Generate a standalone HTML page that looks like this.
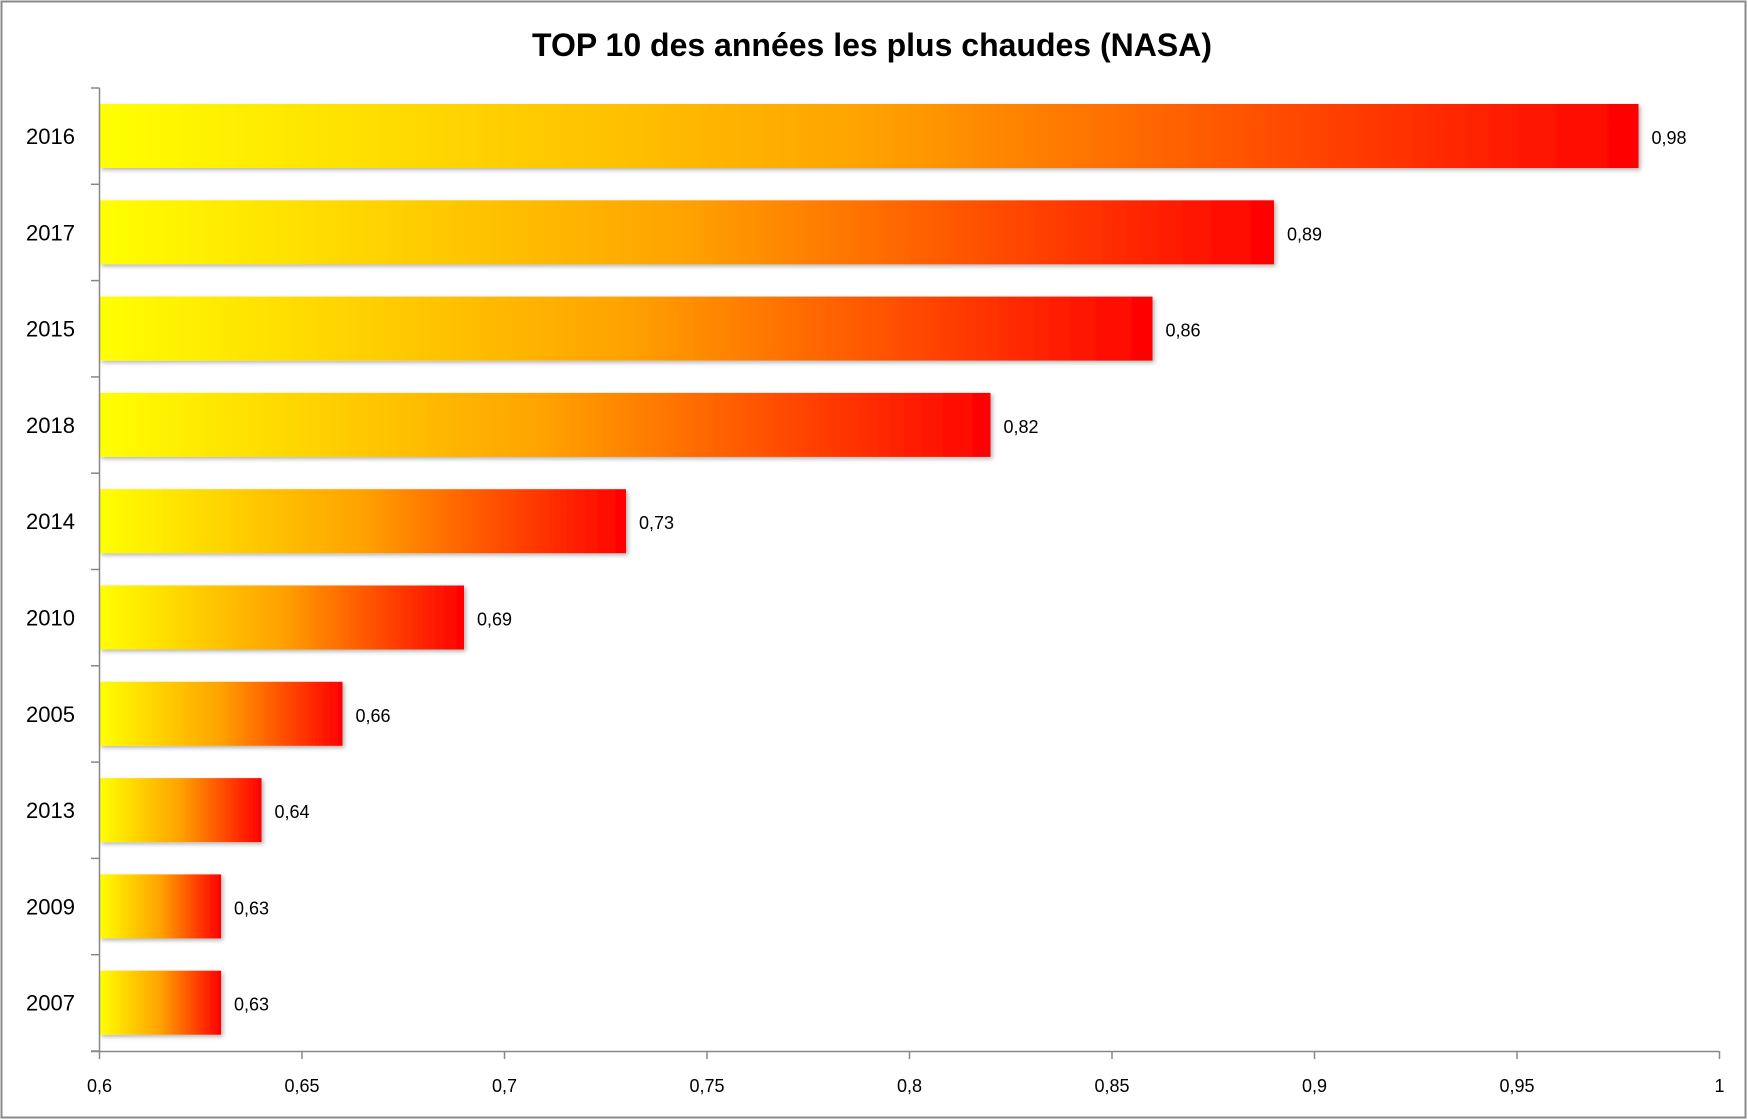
<!DOCTYPE html>
<html><head><meta charset="utf-8"><style>
body{margin:0;background:#fff;}
svg{display:block;font-family:"Liberation Sans",Calibri,sans-serif;}
</style></head><body>
<svg width="1748" height="1120" viewBox="0 0 1748 1120">
<defs>
<linearGradient id="g" x1="0" x2="1" y1="0" y2="0">
<stop offset="0" stop-color="#ffff00"/><stop offset="0.5" stop-color="#ffa200"/><stop offset="1" stop-color="#ff0000"/>
</linearGradient>
<filter id="s" x="-5%" y="-10%" width="110%" height="130%"><feDropShadow dx="2" dy="2" stdDeviation="2" flood-color="#000" flood-opacity="0.3"/></filter>
</defs>
<rect x="1.5" y="1.5" width="1744" height="1116" fill="#fff" stroke="#8a8a8a" stroke-width="2"/>
<text x="872" y="56" text-anchor="middle" font-size="32" font-weight="bold">TOP 10 des années les plus chaudes (NASA)</text>
<g id="bars"></g>
<line x1="99.5" y1="88" x2="99.5" y2="1051" stroke="#888" stroke-width="1.5"/>
<line x1="91" y1="1051.5" x2="1719" y2="1051.5" stroke="#888" stroke-width="1.5"/>
<g id="ax" font-size="18" text-anchor="middle"></g>
<g id="yl" font-size="22" text-anchor="end"></g>
</svg>
<script>
var d=[["2016",0.98],["2017",0.89],["2015",0.86],["2018",0.82],["2014",0.73],["2010",0.69],["2005",0.66],["2013",0.64],["2009",0.63],["2007",0.63]];
var ns="http://www.w3.org/2000/svg",svg=document.querySelector("svg");
function X(v){return 99.5+(v-0.6)*4050;}
function el(t,a,p,txt){var e=document.createElementNS(ns,t);for(var k in a)e.setAttribute(k,a[k]);if(txt)e.textContent=txt;(p||svg).appendChild(e);return e;}
var bars=document.getElementById("bars"),ax=document.getElementById("ax"),yl=document.getElementById("yl");
var band=96.3,top0=88;
for(var i=0;i<10;i++){
 var y=top0+i*band+16, w=X(d[i][1])-99.5;
 el("rect",{x:99.5,y:y,width:w,height:64,fill:"url(#g)",filter:"url(#s)"},bars);
 el("text",{x:99.5+w+13,y:y+40,"font-size":"18"},bars,d[i][1].toFixed(2).replace(".",","));
 el("text",{x:75,y:y+40},yl,d[i][0]);
}
for(var i=0;i<=10;i++){var yy=top0+i*band;el("line",{x1:91,x2:99.5,y1:yy,y2:yy,stroke:"#888","stroke-width":1.5});}
var lab=["0,6","0,65","0,7","0,75","0,8","0,85","0,9","0,95","1"];
for(var i=0;i<9;i++){var xx=X(0.6+i*0.05);el("line",{x1:xx,x2:xx,y1:1051,y2:1059,stroke:"#888","stroke-width":1.5});el("text",{x:xx,y:1092},ax,lab[i]);}
</script>
</body></html>
